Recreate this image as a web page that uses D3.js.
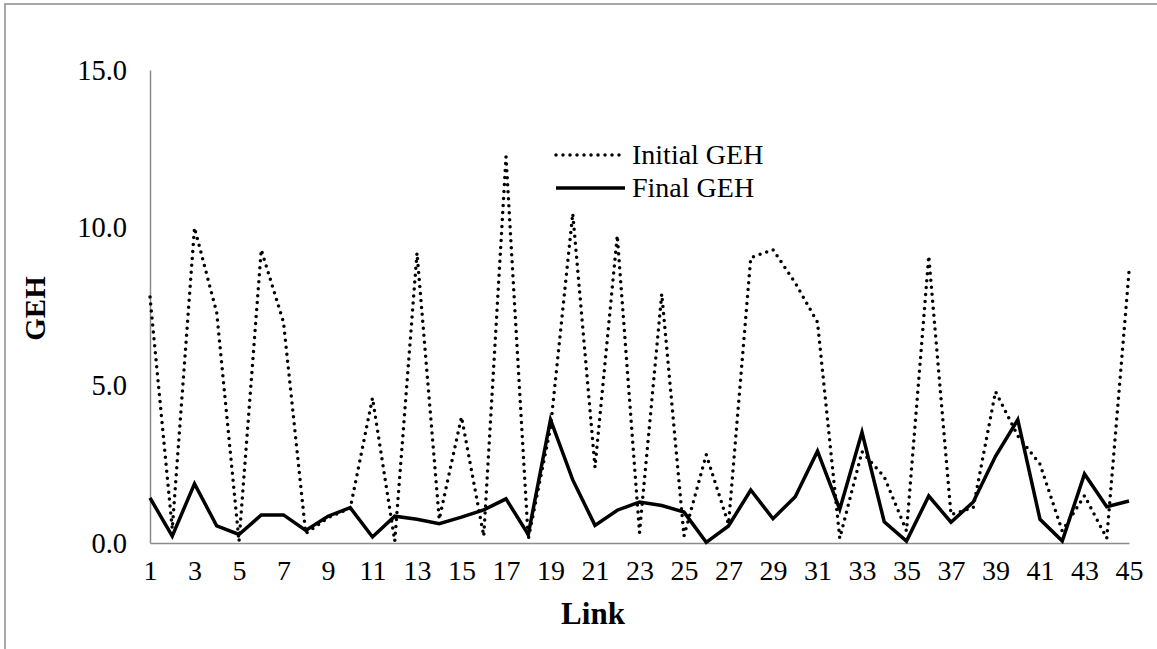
<!DOCTYPE html>
<html>
<head>
<meta charset="utf-8">
<script src="https://cdn.jsdelivr.net/npm/d3@7"></script>
<style>
  body { margin: 0; background: #fff; }
  svg text { font-family: "Liberation Serif", "Times New Roman", serif; fill: #000; }
</style>
</head>
<body>
<div id="chart"></div>
<script>
// link numbers 1..45
var links = d3.range(1, 46);
var xTickLabels = d3.range(1, 46, 2);
var yTickValues = [0, 5, 10, 15];

// GEH before calibration (dotted)
var initialGEH = [7.8, 0.45, 10.0, 7.3, 0.05, 9.3, 7.0, 0.3, 0.8, 1.1,
    4.6, 0.06, 9.2, 0.75, 4.0, 0.22, 12.25, 0.12, 3.65, 10.45,
    2.4, 9.75, 0.33, 7.9, 0.22, 2.8, 0.6, 9.05, 9.3, 8.25,
    7.0, 0.15, 2.9, 2.1, 0.38, 9.1, 0.9, 1.12, 4.8, 3.4,
    2.5, 0.38, 1.5, 0.15, 8.6];

// GEH after calibration (solid)
var finalGEH = [1.43, 0.22, 1.88, 0.54, 0.27, 0.89, 0.89, 0.4, 0.85, 1.12,
    0.19, 0.85, 0.75, 0.61, 0.82, 1.05, 1.4, 0.27, 3.91, 2.0,
    0.56, 1.04, 1.3, 1.19, 0.98, 0.02, 0.54, 1.68, 0.77, 1.47,
    2.91, 1.07, 3.51, 0.67, 0.06, 1.49, 0.66, 1.3, 2.75, 3.91,
    0.75, 0.06, 2.19, 1.15, 1.33];

var W = 1157, H = 649;
var margin = { top: 70, right: 28, bottom: 106, left: 150 };
var width = W - margin.left - margin.right,
    height = H - margin.top - margin.bottom;

var svg = d3.select("#chart").append("svg")
    .attr("width", W)
    .attr("height", H);

// outer frame
svg.append("rect")
    .attr("x", 5).attr("y", 4)
    .attr("width", W + 10).attr("height", H + 10)
    .attr("fill", "none")
    .attr("stroke", "#8c8c8c")
    .attr("stroke-width", 1.5);

var g = svg.append("g")
    .attr("transform", "translate(" + margin.left + "," + margin.top + ")");

var xScale = d3.scaleLinear().domain([1, 45]).range([0, width]);
var yScale = d3.scaleLinear().domain([0, 15]).range([height, 0]);

// X axis
var xAxis = g.append("g")
    .attr("transform", "translate(0," + height + ")")
    .call(d3.axisBottom(xScale).tickValues(xTickLabels).tickSize(0).tickPadding(17)
        .tickFormat(d3.format("d")));
xAxis.select(".domain").attr("stroke", "#8c8c8c").attr("stroke-width", 1.5);
xAxis.selectAll("text").style("font-size", "28px");

// Y axis
var yAxis = g.append("g")
    .call(d3.axisLeft(yScale).tickValues(yTickValues).tickSize(0).tickPadding(23)
        .tickFormat(d3.format(".1f")));
yAxis.select(".domain").attr("stroke", "#8c8c8c").attr("stroke-width", 1.5);
yAxis.selectAll("text").style("font-size", "28.5px");

// axis titles
svg.append("text")
    .attr("x", 593)
    .attr("y", 624)
    .attr("text-anchor", "middle")
    .style("font-size", "31px")
    .style("font-weight", "bold")
    .text("Link");

svg.append("text")
    .attr("transform", "translate(45," + (margin.top + height / 2 + 2) + ") rotate(-90)")
    .attr("text-anchor", "middle")
    .style("font-size", "29px")
    .style("font-weight", "bold")
    .text("GEH");

var line = function (vals) {
    return d3.line()
        .x(function (d, i) { return xScale(links[i]); })
        .y(function (d) { return yScale(d); })(vals);
};

g.append("path")
    .attr("d", line(initialGEH))
    .attr("fill", "none")
    .attr("stroke", "#000")
    .attr("stroke-width", 3.5)
    .attr("stroke-linecap", "round")
    .attr("stroke-dasharray", "0,7");

g.append("path")
    .attr("d", line(finalGEH))
    .attr("fill", "none")
    .attr("stroke", "#000")
    .attr("stroke-width", 3.5)
    .attr("stroke-linejoin", "miter");

// legend
var legend = svg.append("g").attr("transform", "translate(556,155)");
legend.append("line")
    .attr("x1", 0).attr("x2", 69).attr("y1", 0).attr("y2", 0)
    .attr("stroke", "#000").attr("stroke-width", 3.5)
    .attr("stroke-linecap", "round").attr("stroke-dasharray", "0,7");
legend.append("text")
    .attr("x", 76).attr("y", 9)
    .style("font-size", "28px")
    .text("Initial GEH");
legend.append("line")
    .attr("x1", 0).attr("x2", 69).attr("y1", 33).attr("y2", 33)
    .attr("stroke", "#000").attr("stroke-width", 3.5);
legend.append("text")
    .attr("x", 76).attr("y", 42)
    .style("font-size", "28px")
    .text("Final GEH");
</script>
</body>
</html>
